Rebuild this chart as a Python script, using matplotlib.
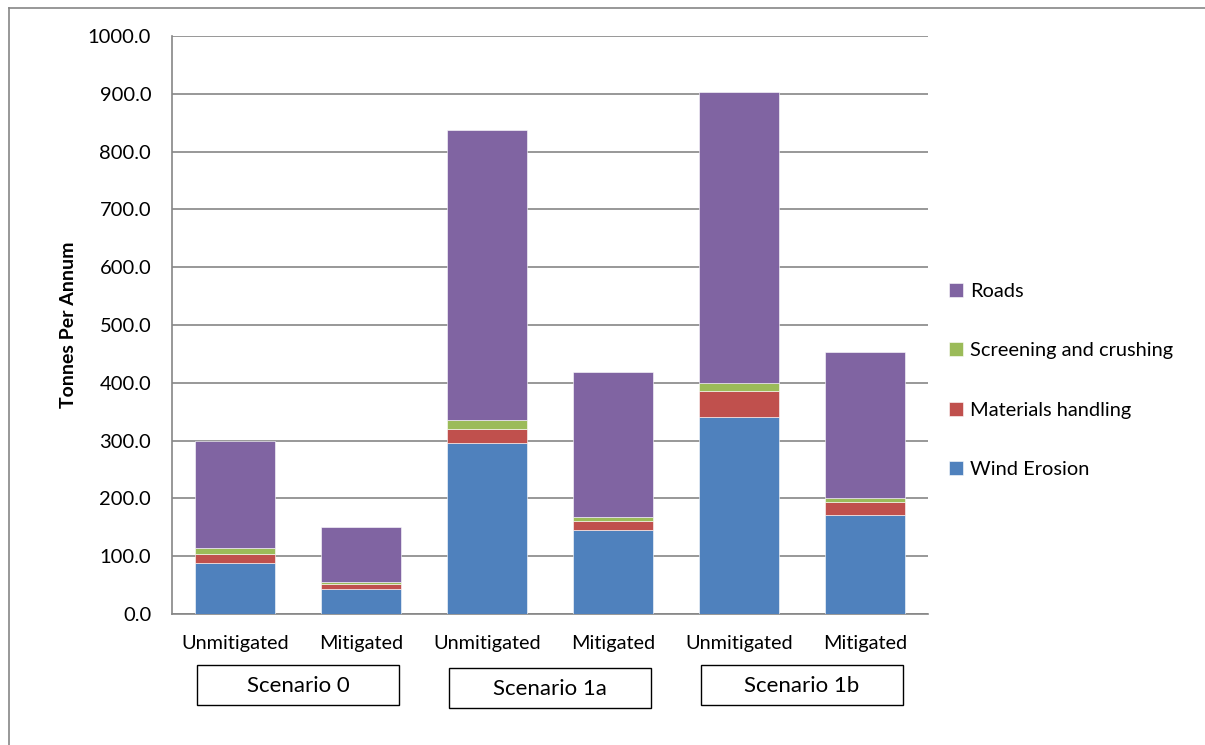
import numpy as np
import matplotlib
matplotlib.use("Agg")
import matplotlib.pyplot as plt
from matplotlib.patches import Rectangle
from matplotlib.lines import Line2D

plt.rcParams["font.family"] = ["Lato", "DejaVu Sans"]

# data (tonnes per annum)
bar_labels = ["Unmitigated", "Mitigated", "Unmitigated", "Mitigated", "Unmitigated", "Mitigated"]
scenarios = ["Scenario 0", "Scenario 1a", "Scenario 1b"]
wind_erosion = [88, 44, 295, 145, 340, 171]
materials_handling = [16, 8, 25, 16, 46, 23]
screening_crushing = [10, 4, 15, 7, 14, 6]
roads = [186, 95, 502, 250, 503, 253]

series = [
    ("Wind Erosion", wind_erosion, "#4F81BD"),
    ("Materials handling", materials_handling, "#C0504D"),
    ("Screening and crushing", screening_crushing, "#9BBB59"),
    ("Roads", roads, "#8064A2"),
]

fig = plt.figure(figsize=(12.05, 7.45), dpi=100)
ax = fig.add_axes([172 / 1205, 1 - 614 / 745, 756 / 1205, 578 / 745])

x = np.arange(len(bar_labels))
bottom = np.zeros(len(bar_labels))
handles = []
for name, vals, col in series:
    b = ax.bar(x, vals, width=0.64, bottom=bottom, color=col, label=name,
               edgecolor="white", linewidth=0.4, zorder=3)
    handles.append(b)
    bottom += np.array(vals)

grid_col = "#868686"
ax.set_ylim(0, 1000)
ax.set_xlim(-0.5, len(bar_labels) - 0.5)
ax.set_yticks(np.arange(0, 1001, 100))
ax.set_yticklabels([f"{v:.1f}" for v in np.arange(0, 1001, 100)], fontsize=14.5)
ax.yaxis.grid(True, color=grid_col, linewidth=1.2, zorder=0)
ax.set_axisbelow(True)
ax.set_xticks(x)
ax.set_xticklabels(bar_labels, fontsize=14.3)
ax.tick_params(axis="both", length=0)
ax.tick_params(axis="y", pad=15)
ax.tick_params(axis="x", pad=15)
for s in ["top", "right"]:
    ax.spines[s].set_visible(False)
ax.spines["left"].set_color(grid_col)
ax.spines["left"].set_linewidth(1.2)
ax.spines["bottom"].set_color(grid_col)
ax.spines["bottom"].set_linewidth(1.2)
ax.set_ylabel("Tonnes Per Annum", fontsize=14, fontweight="bold", labelpad=8)

# scenario boxes under each pair of bars
box_offsets = [0.0, -0.005, 0.0]
for i, name in enumerate(scenarios):
    cx = 2 * i + 0.5
    y0 = -0.157 + box_offsets[i]
    r = Rectangle((cx - 0.8, y0), 1.6, 0.069, transform=ax.get_xaxis_transform(),
                  facecolor="white", edgecolor="black", linewidth=1.0, clip_on=False)
    ax.add_patch(r)
    ax.text(cx, y0 + 0.033, name, transform=ax.get_xaxis_transform(),
            ha="center", va="center", fontsize=16)

leg = fig.legend(handles[::-1], [h.get_label() for h in handles[::-1]],
                 loc="upper left", bbox_to_anchor=(949 / 1205, 1 - 283 / 745),
                 frameon=False, fontsize=14.4, handlelength=0.7, handleheight=0.7,
                 handletextpad=0.35, labelspacing=2.12, borderpad=0, borderaxespad=0)

# outer chart frame (left and top edges only visible)
fig.add_artist(Line2D([8.5 / 1205, 8.5 / 1205], [0, 1 - 8 / 745], color=grid_col,
                      linewidth=1.2, transform=fig.transFigure))
fig.add_artist(Line2D([8.5 / 1205, 1], [1 - 8 / 745, 1 - 8 / 745], color=grid_col,
                      linewidth=1.2, transform=fig.transFigure))

fig.savefig("out.png", dpi=100)
